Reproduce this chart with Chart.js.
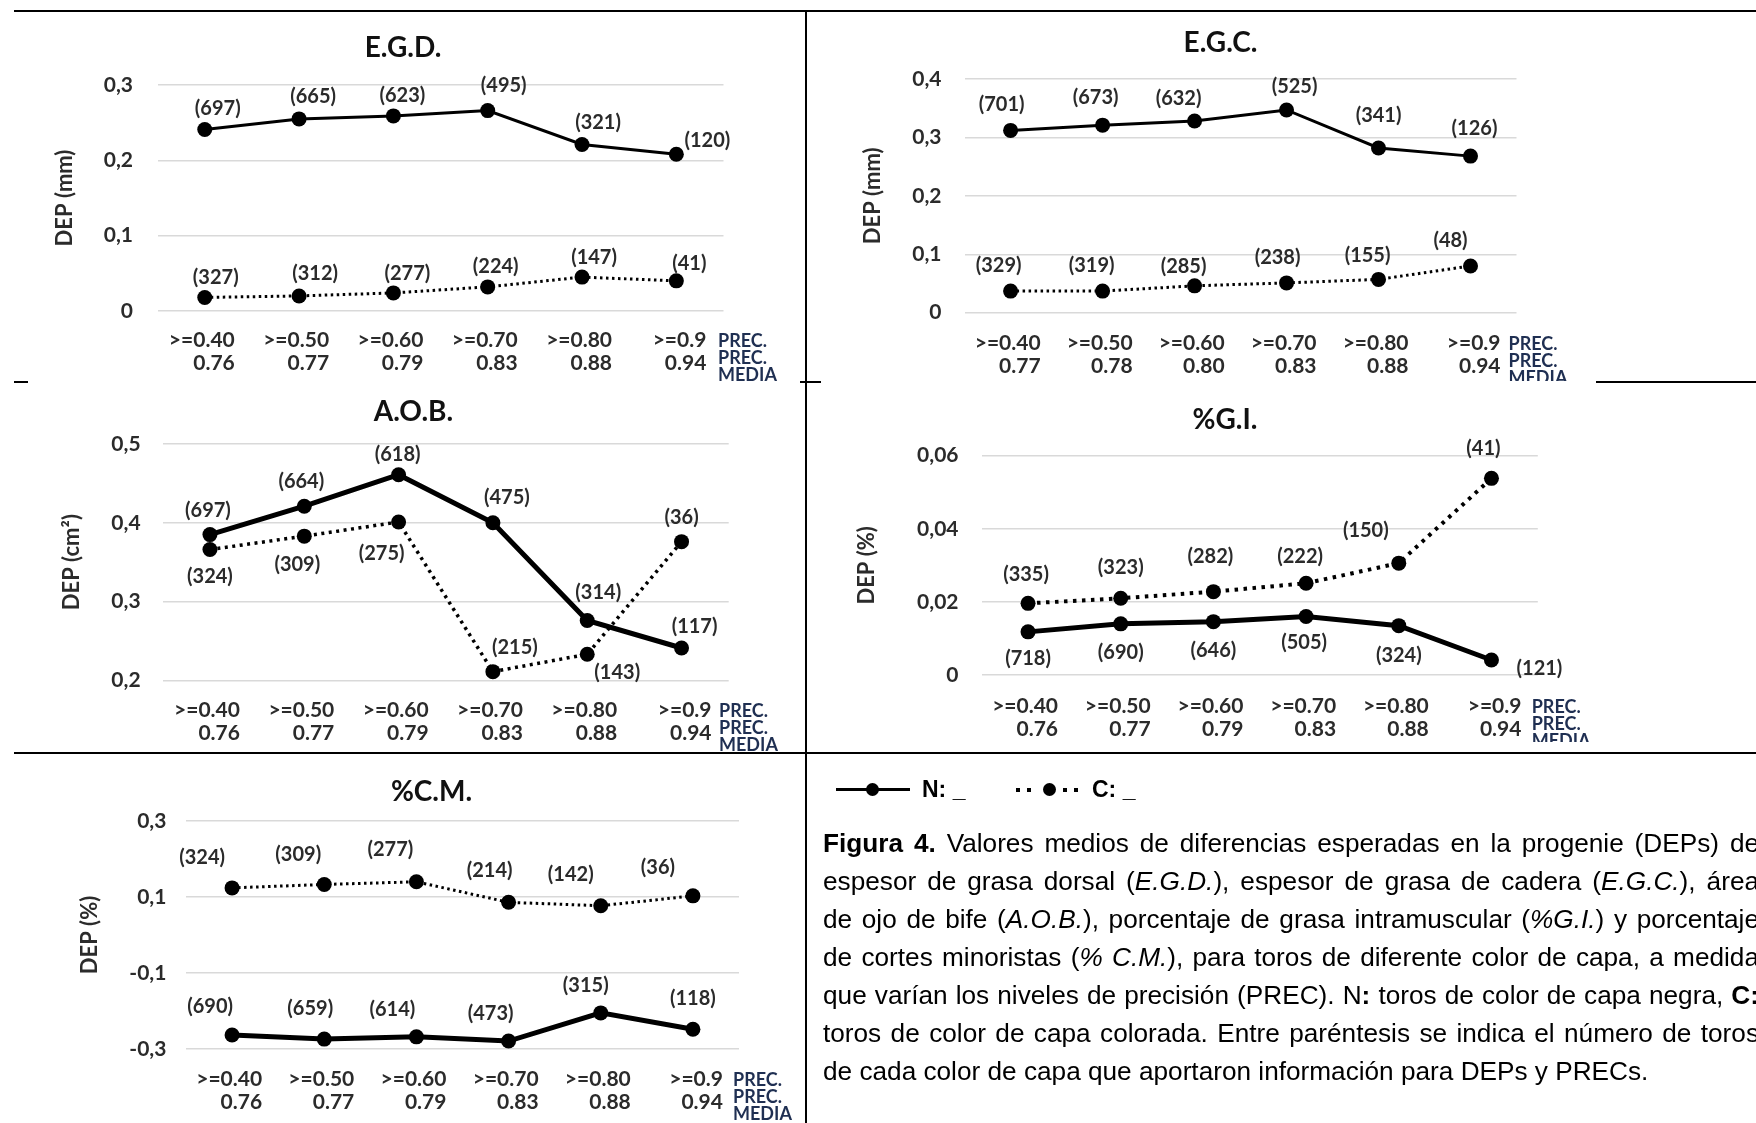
<!DOCTYPE html>
<html><head><meta charset="utf-8">
<script src="https://cdn.jsdelivr.net/npm/chart.js@4.4.1/dist/chart.umd.min.js"></script>
<style>
html,body{margin:0;padding:0;background:#fff;}
body{width:1756px;height:1123px;position:relative;overflow:hidden;font-family:'Liberation Sans',Arial,sans-serif;}
.hl{position:absolute;height:2px;background:#000;}
.vl{position:absolute;width:2px;background:#000;}
.precbox{position:absolute;overflow:hidden;}
.prec{font-family:Lato;font-weight:700;font-size:18px;line-height:17px;color:#1f2f52;white-space:nowrap;}
.cap{position:absolute;left:823px;width:936px;top:824px;font-size:26.2px;line-height:38px;color:#000;}
.cap div{text-align:justify;text-align-last:justify;}
.cap div.last{text-align:left;text-align-last:left;}
.leg{position:absolute;font-family:'Liberation Sans',Arial,sans-serif;font-weight:700;font-size:23px;line-height:26px;color:#000;}
.dot{position:absolute;width:4px;height:4px;background:#000;}
.mk{position:absolute;width:13px;height:13px;border-radius:50%;background:#000;}
</style></head><body>

<script>
// ---------------- DATA ----------------
const categories = ['>=0.40', '>=0.50', '>=0.60', '>=0.70', '>=0.80', '>=0.9'];

const egdMedia = ['0.76', '0.77', '0.79', '0.83', '0.88', '0.94'];
const egdN = [0.241, 0.255, 0.259, 0.266, 0.221, 0.208];
const egdC = [0.018, 0.020, 0.024, 0.032, 0.045, 0.040];
const egdNcount = [697, 665, 623, 495, 321, 120];
const egdCcount = [327, 312, 277, 224, 147, 41];

const egcMedia = ['0.77', '0.78', '0.80', '0.83', '0.88', '0.94'];
const egcN = [0.312, 0.321, 0.328, 0.347, 0.282, 0.268];
const egcC = [0.037, 0.037, 0.046, 0.051, 0.057, 0.080];
const egcNcount = [701, 673, 632, 525, 341, 126];
const egcCcount = [329, 319, 285, 238, 155, 48];

const aobMedia = ['0.76', '0.77', '0.79', '0.83', '0.88', '0.94'];
const aobN = [0.385, 0.421, 0.461, 0.400, 0.276, 0.241];
const aobC = [0.366, 0.383, 0.401, 0.211, 0.233, 0.376];
const aobNcount = [697, 664, 618, 475, 314, 117];
const aobCcount = [324, 309, 275, 215, 143, 36];

const giMedia = ['0.76', '0.77', '0.79', '0.83', '0.88', '0.94'];
const giN = [0.0118, 0.0140, 0.0146, 0.0160, 0.0135, 0.0041];
const giC = [0.0196, 0.0210, 0.0228, 0.0251, 0.0306, 0.0538];
const giNcount = [718, 690, 646, 505, 324, 121];
const giCcount = [335, 323, 282, 222, 150, 41];

const cmMedia = ['0.76', '0.77', '0.79', '0.83', '0.88', '0.94'];
const cmN = [-0.263, -0.274, -0.268, -0.279, -0.205, -0.248];
const cmC = [0.124, 0.133, 0.140, 0.086, 0.077, 0.103];
const cmNcount = [690, 659, 614, 473, 315, 118];
const cmCcount = [324, 309, 277, 214, 142, 36];

// ---------------- LAYOUT ----------------
const PANELS = [
  {title: 'E.G.D.', yTitle: 'DEP (mm)', media: egdMedia, N: egdN, C: egdC, nCount: egdNcount, cCount: egdCcount,
   min: 0, max: 0.3, step: 0.1,
   geo: {L: 10, plotL: 157.6, plotR: 723.5, plotT: 85, plotB: 311, titleX: 403, titleY: 48, yTitleX: 65, tickR: 133, row1: 340, precX: 718, clipB: 382},
   nW: 3, cW: 3, dash: [2.5, 3.5],
   offN: [[13,-21],[14,-22],[9,-20],[16,-25],[16,-22],[31,-14]],
   offC: [[11,-20],[16,-22],[14,-19],[8,-20],[12,-20],[13,-17]]},
  {title: 'E.G.C.', yTitle: 'DEP (mm)', media: egcMedia, N: egcN, C: egcC, nCount: egcNcount, cCount: egcCcount,
   min: 0, max: 0.4, step: 0.1,
   geo: {L: 833, plotL: 964.6, plotR: 1516.5, plotT: 79, plotB: 312.7, titleX: 1220.7, titleY: 43, yTitleX: 873, tickR: 941.5, row1: 343.3, precX: 1508.5, clipB: 381},
   nW: 3, cW: 3, dash: [2.5, 3.5],
   offN: [[-9,-26],[-7,-28],[-16,-23],[8,-23],[0,-32],[4,-28]],
   offC: [[-12,-26],[-11,-26],[-11,-19],[-9,-25],[-11,-24],[-20,-25]]},
  {title: 'A.O.B.', yTitle: 'DEP (cm²)', media: aobMedia, N: aobN, C: aobC, nCount: aobNcount, cCount: aobCcount,
   min: 0.2, max: 0.5, step: 0.1,
   geo: {L: 10, plotL: 162.8, plotR: 728.7, plotT: 444, plotB: 680.3, titleX: 413.4, titleY: 412.3, yTitleX: 72, tickR: 140.6, row1: 710, precX: 719, clipB: 752},
   nW: 5, cW: 3.5, dash: [3, 4.5],
   offN: [[-2,-24],[-3,-25],[-1,-20],[14,-25],[11,-28],[13,-21]],
   offC: [[0,27],[-7,28],[-17,32],[22,-24],[30,18],[0,-24]]},
  {title: '%G.I.', yTitle: 'DEP (%)', media: giMedia, N: giN, C: giC, nCount: giNcount, cCount: giCcount,
   min: 0, max: 0.06, step: 0.02,
   geo: {L: 827, plotL: 981.7, plotR: 1537.8, plotT: 455.7, plotB: 675, titleX: 1225, titleY: 420, yTitleX: 867, tickR: 958.5, row1: 706, precX: 1531.7, clipB: 742},
   nW: 5, cW: 4, dash: [3.5, 5.5],
   offN: [[0,27],[0,29],[0,29],[-2,26],[0,30],[48,9]],
   offC: [[-2,-29],[0,-31],[-3,-35],[-6,-27],[-33,-33],[-8,-30]]},
  {title: '%C.M.', yTitle: 'DEP (%)', media: cmMedia, N: cmN, C: cmC, nCount: cmNcount, cCount: cmCcount,
   min: -0.3, max: 0.3, step: 0.2,
   geo: {L: 10, plotL: 186, plotR: 739, plotT: 821, plotB: 1049, titleX: 431.5, titleY: 791.7, yTitleX: 90.4, tickR: 166.4, row1: 1079.3, precX: 733, clipB: 1123},
   nW: 5, cW: 3, dash: [2.5, 3.5],
   offN: [[-22,-28],[-14,-31],[-24,-27],[-18,-27],[-15,-27],[0,-31]],
   offC: [[-30,-30],[-26,-30],[-26,-32],[-19,-32],[-30,-31],[-35,-28]]}
];

const fmt = v => String(Math.round(v * 10000) / 10000).replace('.', ',');

const countLabels = {
  id: 'countLabels',
  afterDatasetsDraw(chart) {
    const ctx = chart.ctx;
    ctx.save();
    ctx.font = '700 20px Lato';
    ctx.fillStyle = '#2b2b2b';
    ctx.textAlign = 'center';
    ctx.textBaseline = 'middle';
    chart.data.datasets.forEach((ds, di) => {
      const meta = chart.getDatasetMeta(di);
      meta.data.forEach((pt, i) => {
        const o = ds.labelOffsets[i];
        ctx.fillText('(' + ds.counts[i] + ')', pt.x + o[0], pt.y + o[1]);
      });
    });
    ctx.restore();
  }
};

function build(p) {
  const g = p.geo;
  const L = g.L;
  const T = Math.round(g.titleY - 40);
  const B = Math.round(g.plotB + 72);
  const W = Math.round(2 * (g.titleX - L));
  const H = B - T;
  const titleLH = 28 * 1.2, tickLH = 21 * 1.1, yTitleLH = 22 * 1.2;
  const cv = document.createElement('canvas');
  cv.width = W; cv.height = H;
  cv.style.cssText = 'position:absolute;left:' + L + 'px;top:' + T + 'px;width:' + W + 'px;height:' + H + 'px;';
  document.body.appendChild(cv);
  const tickFont = {family: 'Lato', size: 21, weight: '700', lineHeight: 1.1};
  const pointCommon = {pointRadius: 7.5, pointHoverRadius: 7.5, pointBackgroundColor: '#000', pointBorderColor: '#000', pointBorderWidth: 0, tension: 0, fill: false};
  new Chart(cv, {
    type: 'line',
    data: {
      labels: categories.map((c, i) => [c, p.media[i]]),
      datasets: [
        Object.assign({label: 'N', data: p.N, counts: p.nCount, labelOffsets: p.offN, borderColor: '#000', backgroundColor: '#000', borderWidth: p.nW}, pointCommon),
        Object.assign({label: 'C', data: p.C, counts: p.cCount, labelOffsets: p.offC, borderColor: '#000', backgroundColor: '#000', borderWidth: p.cW, borderDash: p.dash, borderCapStyle: 'butt'}, pointCommon)
      ]
    },
    options: {
      responsive: false, animation: false, events: [],
      layout: {padding: 0},
      plugins: {
        legend: {display: false}, tooltip: {enabled: false},
        title: {display: true, text: p.title, color: '#111', font: {family: 'Lato', size: 28, weight: '700', lineHeight: 1.2},
                padding: {top: g.titleY - T - titleLH / 2, bottom: g.plotT - g.titleY - titleLH / 2}}
      },
      scales: {
        x: {
          offset: true,
          grid: {display: false, drawTicks: false}, border: {display: false},
          ticks: {align: 'end', labelOffset: 30, padding: g.row1 - g.plotB - tickLH / 2, color: '#2b2b2b', font: tickFont, autoSkip: false, maxRotation: 0, minRotation: 0},
          afterFit: s => { s.height = B - g.plotB; }
        },
        y: {
          min: p.min, max: p.max,
          grid: {color: '#d9d9d9', lineWidth: 1.5, drawTicks: false}, border: {display: false},
          ticks: {stepSize: p.step, padding: g.plotL - g.tickR, color: '#2b2b2b', font: tickFont, callback: v => fmt(v)},
          title: {display: true, text: p.yTitle, color: '#2b2b2b', font: {family: 'Lato', size: 22, weight: '700', lineHeight: 1.2},
                  padding: {top: g.yTitleX - L - yTitleLH / 2, bottom: 0}},
          afterFit: s => { s.width = g.plotL - L; }
        },
        yR: {
          position: 'right', display: true,
          grid: {display: false, drawTicks: false}, border: {display: false},
          ticks: {display: false},
          afterFit: s => { s.width = (L + W) - g.plotR; }
        }
      }
    },
    plugins: [countLabels]
  });

  // PREC. / PREC. MEDIA side labels
  const box = document.createElement('div');
  box.className = 'precbox';
  const top = g.row1 - 8.5;
  box.style.cssText = 'left:' + g.precX + 'px;top:' + top + 'px;width:70px;height:' + Math.max(0, g.clipB - top) + 'px;';
  box.innerHTML = '<div class="prec">PREC.</div><div class="prec">PREC.</div><div class="prec">MEDIA</div>';
  document.body.appendChild(box);
}

PANELS.forEach(build);
</script>

<!-- table borders -->
<div class="hl" style="left:14px;top:10px;width:1742px;"></div>
<div class="vl" style="left:805px;top:10px;height:1113px;"></div>
<div class="hl" style="left:14px;top:381px;width:14px;"></div>
<div class="hl" style="left:800px;top:381px;width:21px;"></div>
<div class="hl" style="left:1596px;top:381px;width:160px;"></div>
<div class="hl" style="left:14px;top:752px;width:1742px;"></div>

<!-- legend -->
<div style="position:absolute;left:836px;top:788px;width:74px;height:3px;background:#000;"></div>
<div class="mk" style="left:866px;top:783px;"></div>
<div class="leg" style="left:922px;top:776px;">N: _</div>
<div class="dot" style="left:1016px;top:788px;"></div>
<div class="dot" style="left:1027px;top:788px;"></div>
<div class="mk" style="left:1043px;top:783px;"></div>
<div class="dot" style="left:1063px;top:788px;"></div>
<div class="dot" style="left:1074px;top:788px;"></div>
<div class="leg" style="left:1092px;top:776px;">C: _</div>

<!-- caption -->
<div class="cap">
<div><b>Figura 4.</b> Valores medios de diferencias esperadas en la progenie (DEPs) de</div>
<div>espesor de grasa dorsal (<i>E.G.D.</i>), espesor de grasa de cadera (<i>E.G.C.</i>), área</div>
<div>de ojo de bife (<i>A.O.B.</i>), porcentaje de grasa intramuscular (<i>%G.I.</i>) y porcentaje</div>
<div>de cortes minoristas (<i>% C.M.</i>), para toros de diferente color de capa, a medida</div>
<div>que varían los niveles de precisión (PREC). N<b>:</b> toros de color de capa negra, <b>C:</b></div>
<div>toros de color de capa colorada. Entre paréntesis se indica el número de toros</div>
<div class="last">de cada color de capa que aportaron información para DEPs y PRECs.</div>
</div>
</body></html>
